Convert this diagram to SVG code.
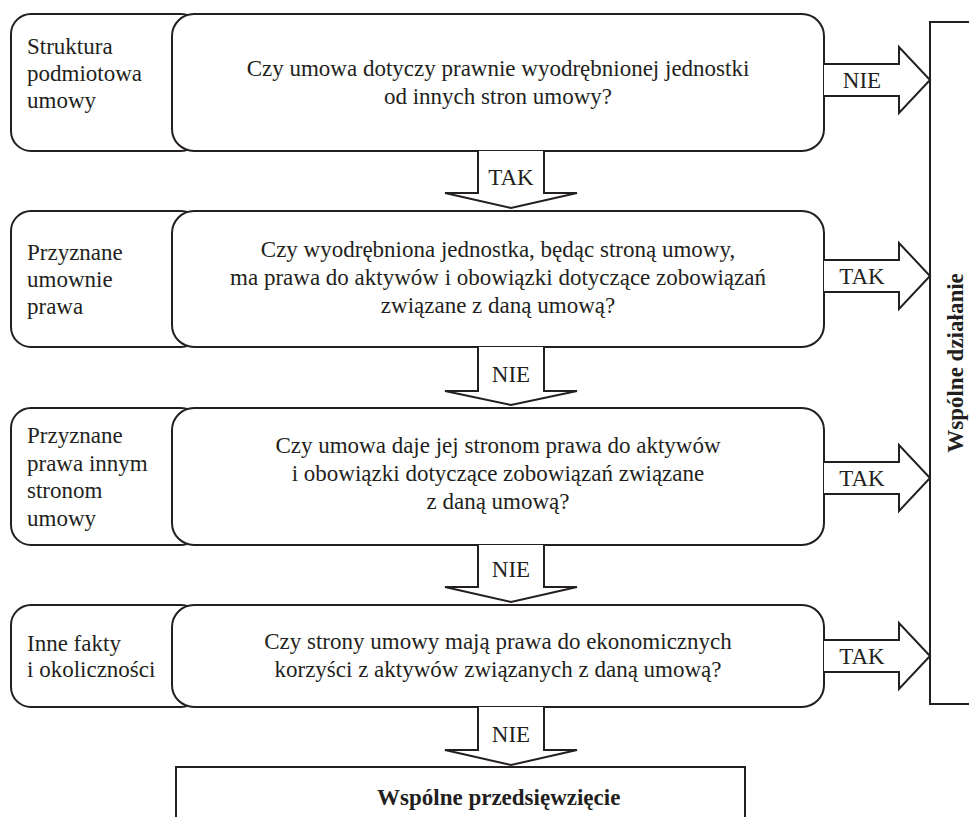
<svg xmlns="http://www.w3.org/2000/svg" width="969" height="817" viewBox="0 0 969 817">
<rect width="969" height="817" fill="#fff"/>
<g id="dzialanie">
<rect x="930" y="22" width="60" height="682" fill="#fff" stroke="#231f20" stroke-width="2"/>
<text font-family="Liberation Serif, serif" font-size="23" font-weight="bold" fill="#231f20" text-anchor="middle" transform="translate(963,363) rotate(-90)">Wspólne działanie</text>
</g>
<g id="row1">
<rect x="11" y="14" width="190" height="137" rx="20" fill="#fff" stroke="#231f20" stroke-width="2"/>
<rect x="172" y="14" width="652" height="137" rx="22" fill="#fff" stroke="#231f20" stroke-width="2"/>
<text font-family="Liberation Serif, serif" font-size="23" fill="#231f20" x="27" y="54">Struktura</text>
<text font-family="Liberation Serif, serif" font-size="23" fill="#231f20" x="27" y="81">podmiotowa</text>
<text font-family="Liberation Serif, serif" font-size="23" fill="#231f20" x="27" y="108">umowy</text>
<text font-family="Liberation Serif, serif" font-size="23" fill="#231f20" text-anchor="middle" x="498" y="76">Czy umowa dotyczy prawnie wyodrębnionej jednostki</text>
<text font-family="Liberation Serif, serif" font-size="23" fill="#231f20" text-anchor="middle" x="498" y="104">od innych stron umowy?</text>
</g>
<g id="row2">
<rect x="11" y="211" width="190" height="136" rx="20" fill="#fff" stroke="#231f20" stroke-width="2"/>
<rect x="172" y="211" width="652" height="136" rx="22" fill="#fff" stroke="#231f20" stroke-width="2"/>
<text font-family="Liberation Serif, serif" font-size="23" fill="#231f20" x="27" y="260">Przyznane</text>
<text font-family="Liberation Serif, serif" font-size="23" fill="#231f20" x="27" y="287">umownie</text>
<text font-family="Liberation Serif, serif" font-size="23" fill="#231f20" x="27" y="314">prawa</text>
<text font-family="Liberation Serif, serif" font-size="23" fill="#231f20" text-anchor="middle" x="498" y="257">Czy wyodrębniona jednostka, będąc stroną umowy,</text>
<text font-family="Liberation Serif, serif" font-size="23" fill="#231f20" text-anchor="middle" x="498" y="285">ma prawa do aktywów i obowiązki dotyczące zobowiązań</text>
<text font-family="Liberation Serif, serif" font-size="23" fill="#231f20" text-anchor="middle" x="498" y="313">związane z daną umową?</text>
</g>
<g id="row3">
<rect x="11" y="408" width="190" height="137" rx="20" fill="#fff" stroke="#231f20" stroke-width="2"/>
<rect x="172" y="408" width="652" height="137" rx="22" fill="#fff" stroke="#231f20" stroke-width="2"/>
<text font-family="Liberation Serif, serif" font-size="23" fill="#231f20" x="27" y="443">Przyznane</text>
<text font-family="Liberation Serif, serif" font-size="23" fill="#231f20" x="27" y="471">prawa innym</text>
<text font-family="Liberation Serif, serif" font-size="23" fill="#231f20" x="27" y="498">stronom</text>
<text font-family="Liberation Serif, serif" font-size="23" fill="#231f20" x="27" y="526">umowy</text>
<text font-family="Liberation Serif, serif" font-size="23" fill="#231f20" text-anchor="middle" x="498" y="453">Czy umowa daje jej stronom prawa do aktywów</text>
<text font-family="Liberation Serif, serif" font-size="23" fill="#231f20" text-anchor="middle" x="498" y="481">i obowiązki dotyczące zobowiązań związane</text>
<text font-family="Liberation Serif, serif" font-size="23" fill="#231f20" text-anchor="middle" x="498" y="509">z daną umową?</text>
</g>
<g id="row4">
<rect x="11" y="605" width="190" height="102" rx="20" fill="#fff" stroke="#231f20" stroke-width="2"/>
<rect x="172" y="605" width="652" height="102" rx="22" fill="#fff" stroke="#231f20" stroke-width="2"/>
<text font-family="Liberation Serif, serif" font-size="23" fill="#231f20" x="27" y="651">Inne fakty</text>
<text font-family="Liberation Serif, serif" font-size="23" fill="#231f20" x="27" y="677">i okoliczności</text>
<text font-family="Liberation Serif, serif" font-size="23" fill="#231f20" text-anchor="middle" x="498" y="649">Czy strony umowy mają prawa do ekonomicznych</text>
<text font-family="Liberation Serif, serif" font-size="23" fill="#231f20" text-anchor="middle" x="498" y="677">korzyści z aktywów związanych z daną umową?</text>
</g>
<g id="przedsiewziecie">
<rect x="176" y="767" width="569" height="80" fill="#fff" stroke="#231f20" stroke-width="2"/>
<text font-family="Liberation Serif, serif" font-size="23" font-weight="bold" fill="#231f20" x="377" y="805">Wspólne przedsięwzięcie</text>
</g>
<g id="connectors">
<path d="M824,64 H899 V47 L930,80 L899,113 V96 H824" fill="#fff" stroke="#231f20" stroke-width="2"/>
<path d="M824,260 H899 V243 L930,276 L899,309 V292 H824" fill="#fff" stroke="#231f20" stroke-width="2"/>
<path d="M824,462 H899 V445 L930,478 L899,511 V494 H824" fill="#fff" stroke="#231f20" stroke-width="2"/>
<path d="M824,640 H899 V623 L930,656 L899,689 V672 H824" fill="#fff" stroke="#231f20" stroke-width="2"/>
<path d="M478,151 V193 H445 L511,208 L577,193 H544 V151" fill="#fff" stroke="#231f20" stroke-width="2"/>
<path d="M478,347 V391 H445 L511,405 L577,391 H544 V347" fill="#fff" stroke="#231f20" stroke-width="2"/>
<path d="M478,545 V587 H445 L511,602 L577,587 H544 V545" fill="#fff" stroke="#231f20" stroke-width="2"/>
<path d="M478,707 V750 H445 L511,765 L577,750 H544 V707" fill="#fff" stroke="#231f20" stroke-width="2"/>
<text font-family="Liberation Serif, serif" font-size="23" fill="#231f20" text-anchor="middle" x="862" y="88">NIE</text>
<text font-family="Liberation Serif, serif" font-size="23" fill="#231f20" text-anchor="middle" x="862" y="284">TAK</text>
<text font-family="Liberation Serif, serif" font-size="23" fill="#231f20" text-anchor="middle" x="862" y="486">TAK</text>
<text font-family="Liberation Serif, serif" font-size="23" fill="#231f20" text-anchor="middle" x="862" y="664">TAK</text>
<text font-family="Liberation Serif, serif" font-size="23" fill="#231f20" text-anchor="middle" x="511" y="185">TAK</text>
<text font-family="Liberation Serif, serif" font-size="23" fill="#231f20" text-anchor="middle" x="511" y="382">NIE</text>
<text font-family="Liberation Serif, serif" font-size="23" fill="#231f20" text-anchor="middle" x="511" y="577">NIE</text>
<text font-family="Liberation Serif, serif" font-size="23" fill="#231f20" text-anchor="middle" x="511" y="742">NIE</text>
</g>
</svg>
